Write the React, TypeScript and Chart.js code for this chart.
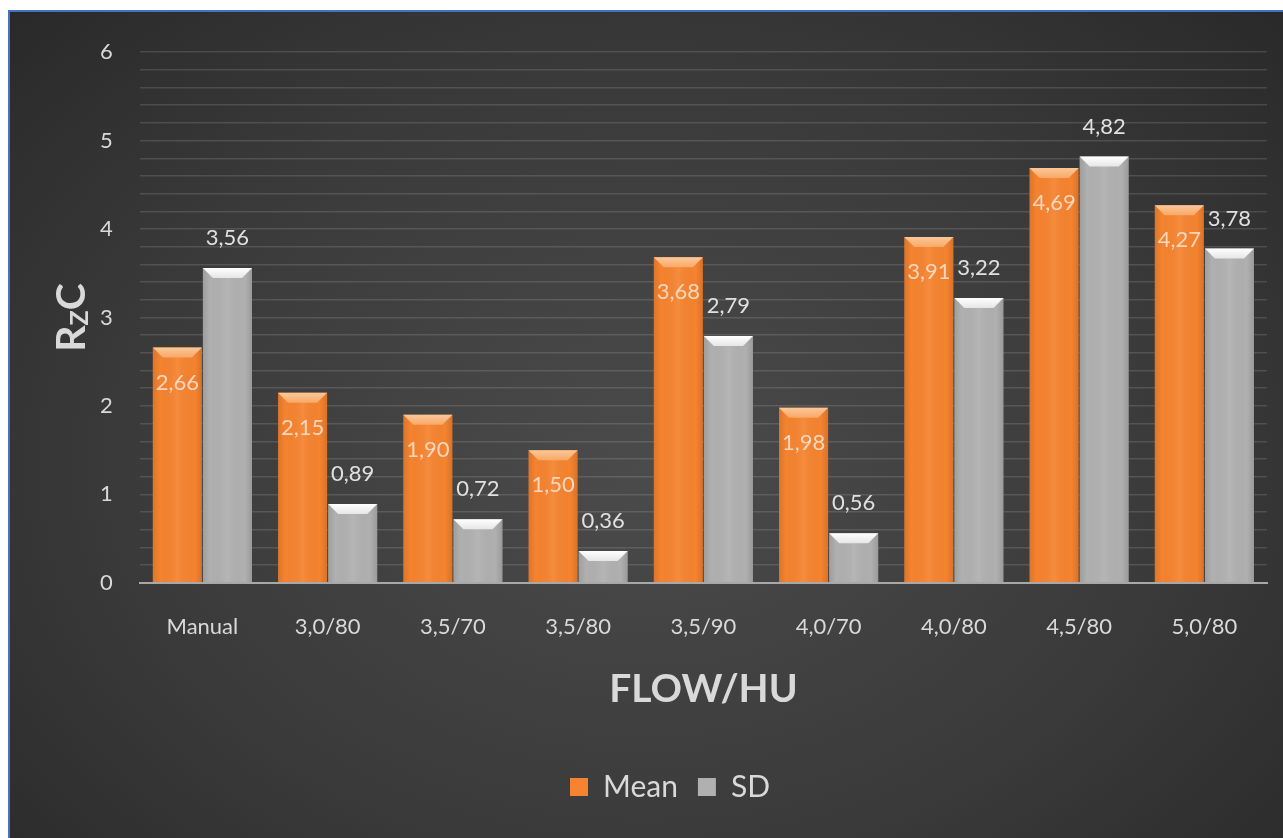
import React, { useEffect, useRef } from "react";
import { Chart, registerables } from "chart.js";
Chart.register(...registerables);

const categories = ["Manual", "3,0/80", "3,5/70", "3,5/80", "3,5/90", "4,0/70", "4,0/80", "4,5/80", "5,0/80"];
const meanValues = [2.66, 2.15, 1.9, 1.5, 3.68, 1.98, 3.91, 4.69, 4.27];
const sdValues = [3.56, 0.89, 0.72, 0.36, 2.79, 0.56, 3.22, 4.82, 3.78];
const seriesNames = ["Mean", "SD"];
const xTitle = "FLOW/HU";
const yTitleParts = ["R", "Z", "C"];

const FONT = "Lato, 'Open Sans', sans-serif";
const fmt = (v: number) => v.toFixed(2).replace(".", ",");

const barDecor = {
  id: "barDecor",
  afterDatasetsDraw(chart: any) {
    const ctx = chart.ctx;
    chart.data.datasets.forEach((ds: any, di: number) => {
      const meta = chart.getDatasetMeta(di);
      meta.data.forEach((bar: any, i: number) => {
        const { x, y, base, width } = bar.getProps(["x", "y", "base", "width"], true);
        const l = x - width / 2;
        const r = x + width / 2;
        const h = base - y;
        const bev = Math.min(10, h / 2);
        ctx.save();
        const g = ctx.createLinearGradient(l, 0, r, 0);
        g.addColorStop(0, "rgba(0,0,0,0.10)");
        g.addColorStop(0.15, "rgba(0,0,0,0)");
        g.addColorStop(0.5, "rgba(255,255,255,0.07)");
        g.addColorStop(0.85, "rgba(0,0,0,0)");
        g.addColorStop(1, "rgba(0,0,0,0.12)");
        ctx.fillStyle = g;
        ctx.fillRect(l, y, width, h);
        ctx.beginPath();
        ctx.moveTo(l, y);
        ctx.lineTo(r, y);
        ctx.lineTo(r - bev, y + bev);
        ctx.lineTo(l + bev, y + bev);
        ctx.closePath();
        const tg = ctx.createLinearGradient(0, y, 0, y + bev);
        if (di === 0) {
          tg.addColorStop(0, "#fbc89a");
          tg.addColorStop(1, "#f9a866");
        } else {
          tg.addColorStop(0, "#ffffff");
          tg.addColorStop(1, "#e6e6e6");
        }
        ctx.fillStyle = tg;
        ctx.fill();
        ctx.font = `22px ${FONT}`;
        ctx.textAlign = "center";
        ctx.textBaseline = "middle";
        const v = ds.data[i];
        if (di === 0) {
          ctx.fillStyle = "#f9d7bf";
          ctx.fillText(fmt(v), x, y + 35);
        } else {
          ctx.fillStyle = "#e0e0e0";
          ctx.fillText(fmt(v), x, y - 30);
        }
        ctx.restore();
      });
    });
  },
};

const yTitlePlugin = {
  id: "yTitlePlugin",
  afterDraw(chart: any) {
    const ctx = chart.ctx;
    const ca = chart.chartArea;
    const cx = ca.left - 70;
    const cy = (ca.top + ca.bottom) / 2;
    ctx.save();
    ctx.translate(cx, cy);
    ctx.rotate(-Math.PI / 2);
    ctx.fillStyle = "#d9d9d9";
    ctx.textBaseline = "alphabetic";
    ctx.textAlign = "left";
    const big = `bold 41px ${FONT}`;
    const small = `bold 25px ${FONT}`;
    ctx.font = big;
    const wR = ctx.measureText(yTitleParts[0]).width;
    const wC = ctx.measureText(yTitleParts[2]).width;
    ctx.font = small;
    const wZ = ctx.measureText(yTitleParts[1]).width;
    const total = wR + wZ + wC;
    let px = -total / 2;
    ctx.font = big;
    ctx.fillText(yTitleParts[0], px, 15);
    px += wR;
    ctx.font = small;
    ctx.fillText(yTitleParts[1], px, 18);
    px += wZ;
    ctx.font = big;
    ctx.fillText(yTitleParts[2], px, 15);
    ctx.restore();
  },
};

export default function App() {
  const ref = useRef<HTMLCanvasElement>(null);
  useEffect(() => {
    const chart = new Chart(ref.current!, {
      type: "bar",
      data: {
        labels: categories,
        datasets: [
          { label: seriesNames[0], data: meanValues, backgroundColor: "#f5832f", borderWidth: 0 },
          { label: seriesNames[1], data: sdValues, backgroundColor: "#b0b0b0", borderWidth: 0 },
        ],
      },
      options: {
        responsive: false,
        animation: false,
        layout: { padding: { left: 63, right: 16, top: 28, bottom: 26 } },
        datasets: { bar: { categoryPercentage: 0.8, barPercentage: 0.98 } },
        plugins: {
          tooltip: { enabled: false },
          legend: {
            position: "bottom",
            labels: {
              color: "#d9d9d9",
              font: { size: 30, family: FONT },
              boxWidth: 18,
              boxHeight: 18,
              padding: 20,
            },
          },
        },
        scales: {
          x: {
            grid: { display: false, drawTicks: false },
            border: { display: true, color: "#a8a8a8", width: 2 },
            ticks: { color: "#d9d9d9", font: { size: 22, family: FONT }, padding: 31 },
            title: {
              display: true,
              text: xTitle,
              color: "#d9d9d9",
              font: { size: 39, weight: "bold", family: FONT },
              padding: { top: -5, bottom: 39 },
            },
          },
          y: {
            min: 0,
            max: 6,
            border: { display: false },
            grid: {
              drawTicks: false,
              color: "rgba(255,255,255,0.13)",
              lineWidth: 1.6,
            },
            ticks: {
              stepSize: 0.2,
              autoSkip: false,
              color: "#d9d9d9",
              font: { size: 22, family: FONT },
              padding: 27,
              callback: (v: any) => {
                const n = Number(v);
                return Math.abs(n - Math.round(n)) < 1e-6 ? String(Math.round(n)) : "";
              },
            },
          },
        },
      },
      plugins: [barDecor, yTitlePlugin],
    });
    return () => chart.destroy();
  }, []);
  return (
    <div
      style={{
        position: "fixed",
        left: 8,
        top: 10,
        right: 0,
        bottom: 0,
        borderTop: "2px solid #4472c4",
        borderLeft: "2px solid #4472c4",
        background: "radial-gradient(ellipse 75% 85% at 50% 55%, #4b4b4b 0%, #3a3a3a 55%, #262626 100%)",
      }}
    >
      <canvas ref={ref} width={1273} height={826} style={{ display: "block" }} />
    </div>
  );
}
